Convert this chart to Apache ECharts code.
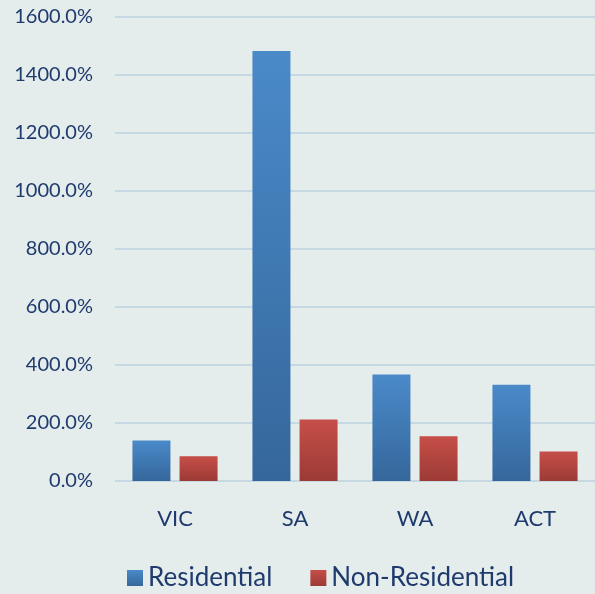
<!DOCTYPE html>
<html>
<head>
<meta charset="utf-8">
<script src="https://cdn.jsdelivr.net/npm/echarts@6/dist/echarts.min.js"></script>
<style>
  html, body { margin: 0; padding: 0; background: #e4ecec; }
  #chart { width: 595px; height: 594px; }
</style>
</head>
<body>
<div id="chart"></div>
<script>
// 数据
var states = ['VIC', 'SA', 'WA', 'ACT'];
var residential = [140, 1483, 367, 332];
var nonResidential = [85, 212, 154, 102];
var yTicks = [0, 200, 400, 600, 800, 1000, 1200, 1400, 1600];

var textColor = '#1f3b6e';
var fontName = 'Lato';

function grad(top, bottom) {
    return new echarts.graphic.LinearGradient(0, 0, 0, 1, [
        { offset: 0, color: top },
        { offset: 1, color: bottom }
    ]);
}

var myChart = echarts.init(document.getElementById('chart'));
var option = {
    backgroundColor: '#e4ecec',
    textStyle: { fontFamily: fontName },
    grid: {
        left: 115,
        right: -9,
        top: 17,
        bottom: 113
    },
    legend: {
        left: 122,
        top: 560,
        itemWidth: 16,
        itemHeight: 16,
        itemGap: 38,
        icon: 'rect',
        textStyle: { color: textColor, fontSize: 26, fontFamily: fontName },
        data: ['Residential', 'Non-Residential']
    },
    xAxis: {
        type: 'category',
        data: states,
        axisLine: { show: false },
        axisTick: { show: false },
        axisLabel: { color: textColor, fontSize: 22, margin: 27 }
    },
    yAxis: {
        type: 'value',
        min: yTicks[0],
        max: yTicks[yTicks.length - 1],
        interval: 200,
        axisLine: { show: false },
        axisTick: { show: false },
        splitLine: { lineStyle: { color: '#c6d9e3', width: 2 } },
        axisLabel: {
            color: textColor,
            fontSize: 20,
            margin: 22,
            formatter: function (v) { return v.toFixed(1) + '%'; }
        }
    },
    series: [{
        name: 'Residential',
        type: 'bar',
        data: residential,
        barWidth: 38,
        barGap: '24%',
        itemStyle: {
            color: grad('#4a8ac9', '#35679b'),
            shadowColor: 'rgba(0,0,0,0.2)',
            shadowBlur: 3,
            shadowOffsetX: 1
        }
    }, {
        name: 'Non-Residential',
        type: 'bar',
        data: nonResidential,
        barWidth: 38,
        itemStyle: {
            color: grad('#c64f48', '#9c3a35'),
            shadowColor: 'rgba(0,0,0,0.2)',
            shadowBlur: 3,
            shadowOffsetX: 1
        }
    }]
};
// 绘制
myChart.setOption(option);
</script>
</body>
</html>
